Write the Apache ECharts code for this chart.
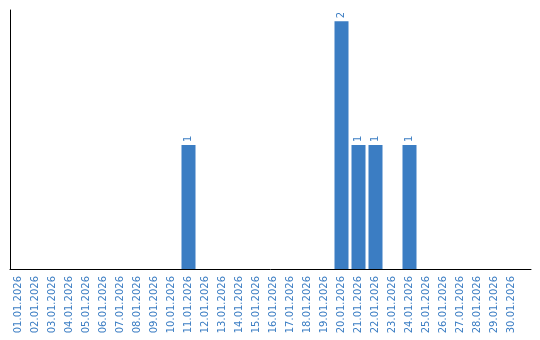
<!DOCTYPE html>
<html><head><meta charset="utf-8">
<script src="https://cdn.jsdelivr.net/npm/echarts@6/dist/echarts.min.js"></script>
<style>html,body{margin:0;padding:0;background:#fff}#c{width:540px;height:340px}</style>
</head><body><div id="c"></div>
<script>
const categories = ['01.01.2026','02.01.2026','03.01.2026','04.01.2026','05.01.2026','06.01.2026','07.01.2026','08.01.2026','09.01.2026','10.01.2026','11.01.2026','12.01.2026','13.01.2026','14.01.2026','15.01.2026','16.01.2026','17.01.2026','18.01.2026','19.01.2026','20.01.2026','21.01.2026','22.01.2026','23.01.2026','24.01.2026','25.01.2026','26.01.2026','27.01.2026','28.01.2026','29.01.2026','30.01.2026'];
const values = [0,0,0,0,0,0,0,0,0,0,1,0,0,0,0,0,0,0,0,2,1,1,0,1,0,0,0,0,0,0];
const yMax = 2.09;
const blue = '#3b7dc3';
const chart = echarts.init(document.getElementById('c'), null, {renderer:'canvas'});
chart.setOption({
  animation: false,
  grid: [
    {left: 10, top: 10, width: 510, bottom: 71, containLabel: false},
    {left: 10, top: 10, right: 9, bottom: 71, containLabel: false}
  ],
  xAxis: [{
    type: 'category', data: categories, gridIndex: 0,
    axisLine: {show: false},
    axisTick: {show: false},
    axisLabel: {rotate: 90, color: blue, fontFamily: 'DejaVu Sans', fontSize: 10, margin: 7, interval: 0}
  },{
    type: 'value', gridIndex: 1, min: 0, max: 1,
    axisLine: {show: true, onZero: false, lineStyle: {color: '#000', width: 1}},
    axisTick: {show: false}, axisLabel: {show: false}, splitLine: {show: false}
  }],
  yAxis: [{
    type: 'value', min: 0, max: yMax, gridIndex: 0,
    axisLine: {show: true, lineStyle: {color: '#000', width: 1}},
    axisTick: {show: false}, axisLabel: {show: false}, splitLine: {show: false}
  },{
    type: 'value', gridIndex: 1, min: 0, max: 1, show: false
  }],
  series: [{
    type: 'bar', data: values.map(v => v === 0 ? null : v), barWidth: 14,
    itemStyle: {color: blue},
    label: {show: true, position: 'top', rotate: 90, align: 'left', verticalAlign: 'middle', distance: 3,
      color: blue, fontFamily: 'DejaVu Sans', fontSize: 10}
  }]
});
</script></body></html>
